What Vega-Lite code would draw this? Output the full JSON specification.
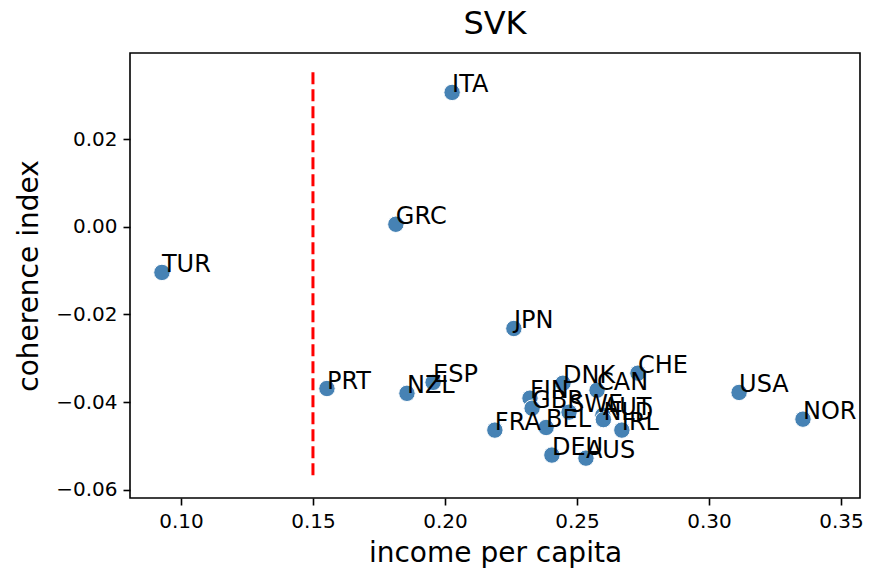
{
  "$schema": "https://vega.github.io/schema/vega-lite/v6.json",
  "width": 730,
  "height": 445,
  "autosize": {"type": "none"},
  "padding": {"left": 130, "top": 53, "right": 25, "bottom": 86},
  "background": "white",
  "config": {
    "font": "DejaVu Sans",
    "view": {"stroke": "black", "strokeWidth": 1.6},
    "axis": {"grid": false, "domain": false, "tickColor": "black", "tickWidth": 1.6, "tickSize": 7, "labelColor": "black", "labelFontSize": 20, "labelPadding": 6, "titleColor": "black", "titleFontSize": 28, "titleFontWeight": "normal", "labelFont": "DejaVu Sans", "titleFont": "DejaVu Sans"}
  },
  "title": {"text": "SVK", "fontSize": 32, "fontWeight": "normal", "font": "DejaVu Sans", "color": "black", "offset": 12, "anchor": "middle"},
  "datasets": {
    "pts": [
      {"country": "TUR", "income": 0.0928, "coherence": -0.0104},
      {"country": "ITA", "income": 0.2027, "coherence": 0.0307},
      {"country": "GRC", "income": 0.1814, "coherence": 0.0006},
      {"country": "JPN", "income": 0.2261, "coherence": -0.0232},
      {"country": "PRT", "income": 0.1553, "coherence": -0.0369},
      {"country": "NZL", "income": 0.1856, "coherence": -0.0380},
      {"country": "ESP", "income": 0.1955, "coherence": -0.0355},
      {"country": "FRA", "income": 0.2189, "coherence": -0.0464},
      {"country": "BEL", "income": 0.2383, "coherence": -0.0458},
      {"country": "DEU", "income": 0.2405, "coherence": -0.0521},
      {"country": "AUS", "income": 0.2534, "coherence": -0.0528},
      {"country": "FIN", "income": 0.2322, "coherence": -0.0391},
      {"country": "GBR", "income": 0.2330, "coherence": -0.0414},
      {"country": "DNK", "income": 0.2447, "coherence": -0.0357},
      {"country": "CAN", "income": 0.2576, "coherence": -0.0373},
      {"country": "SWE", "income": 0.2470, "coherence": -0.0423},
      {"country": "AUT", "income": 0.2598, "coherence": -0.0430},
      {"country": "NLD", "income": 0.2600, "coherence": -0.0440},
      {"country": "IRL", "income": 0.2670, "coherence": -0.0464},
      {"country": "CHE", "income": 0.2731, "coherence": -0.0334},
      {"country": "USA", "income": 0.3114, "coherence": -0.0378},
      {"country": "NOR", "income": 0.3356, "coherence": -0.0439}
    ],
    "threshold": [
      {"income": 0.15, "top": 0.0353, "bottom": -0.0572}
    ]
  },
  "layer": [
    {
      "data": {"name": "threshold"},
      "mark": {"type": "rule", "color": "red", "strokeWidth": 3, "strokeDash": [12, 5]},
      "encoding": {
        "x": {"field": "income", "type": "quantitative", "scale": {"domain": [0.0807, 0.3572], "nice": false, "zero": false}},
        "y": {"field": "top", "type": "quantitative", "scale": {"domain": [-0.0619, 0.0397], "nice": false, "zero": false}},
        "y2": {"field": "bottom"}
      }
    },
    {
      "data": {"name": "pts"},
      "mark": {"type": "point", "shape": "circle", "filled": true, "size": 270, "color": "#4682b4", "opacity": 1, "stroke": "white", "strokeWidth": 1},
      "encoding": {
        "x": {"field": "income", "type": "quantitative", "title": "income per capita", "scale": {"domain": [0.0807, 0.3572], "nice": false, "zero": false}, "axis": {"values": [0.1, 0.15, 0.2, 0.25, 0.3, 0.35], "format": ".2f", "titlePadding": 8}},
        "y": {"field": "coherence", "type": "quantitative", "title": "coherence index", "scale": {"domain": [-0.0619, 0.0397], "nice": false, "zero": false}, "axis": {"values": [-0.06, -0.04, -0.02, 0, 0.02], "format": ".2f", "titlePadding": 12}}
      }
    },
    {
      "data": {"name": "pts"},
      "mark": {"type": "text", "align": "left", "baseline": "alphabetic", "fontSize": 24, "font": "DejaVu Sans", "color": "black"},
      "encoding": {
        "x": {"field": "income", "type": "quantitative"},
        "y": {"field": "coherence", "type": "quantitative"},
        "text": {"field": "country"}
      }
    }
  ]
}
